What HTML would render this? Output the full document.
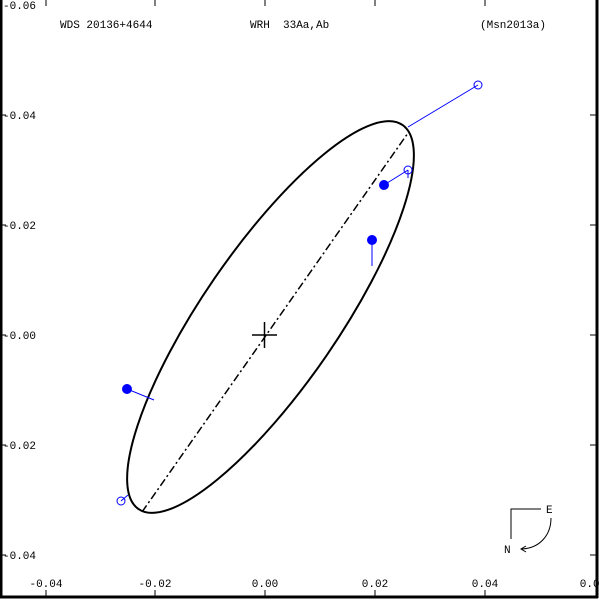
<!DOCTYPE html>
<html><head><style>body{margin:0;background:#fff}svg{display:block}text{font-family:"Liberation Mono",monospace;font-size:11px;fill:#000;white-space:pre}</style></head><body>
<svg width="600" height="600" viewBox="0 0 600 600">
<line x1="1" y1="0" x2="1" y2="598" stroke="#000" stroke-width="3"/>
<line x1="0" y1="597" x2="598" y2="597" stroke="#000" stroke-width="3"/>
<line x1="597" y1="0" x2="597" y2="598" stroke="#000" stroke-width="3"/>
<g stroke="#000" stroke-width="1">
<line x1="46" y1="0" x2="46" y2="6"/><line x1="155" y1="0" x2="155" y2="6"/><line x1="265" y1="0" x2="265" y2="6"/><line x1="375" y1="0" x2="375" y2="6"/><line x1="485" y1="0" x2="485" y2="6"/>
<line x1="46" y1="590" x2="46" y2="597"/><line x1="155" y1="590" x2="155" y2="597"/><line x1="265" y1="590" x2="265" y2="597"/><line x1="375" y1="590" x2="375" y2="597"/><line x1="485" y1="590" x2="485" y2="597"/>
<line x1="0" y1="115" x2="6" y2="115"/><line x1="0" y1="225" x2="6" y2="225"/><line x1="0" y1="335" x2="6" y2="335"/><line x1="0" y1="445" x2="6" y2="445"/><line x1="0" y1="555" x2="6" y2="555"/>
<line x1="590" y1="115" x2="597" y2="115"/><line x1="590" y1="225" x2="597" y2="225"/><line x1="590" y1="335" x2="597" y2="335"/><line x1="590" y1="445" x2="597" y2="445"/><line x1="590" y1="555" x2="597" y2="555"/>
</g>
<text x="3" y="9">-0.06</text><text x="3" y="119">-0.04</text><text x="3" y="229">-0.02</text><text x="3" y="339">-0.00</text><text x="3" y="449">-0.02</text><text x="3" y="559">-0.04</text>
<g text-anchor="middle"><text x="46" y="587">-0.04</text><text x="155" y="587">-0.02</text><text x="265" y="587">0.00</text><text x="375" y="587">0.02</text><text x="485" y="587">0.04</text><text x="593" y="587">0.06</text></g>
<text x="60" y="28">WDS 20136+4644</text><text x="250" y="28" xml:space="preserve">WRH  33Aa,Ab</text><text x="480" y="28">(Msn2013a)</text>
<ellipse cx="270.5" cy="317" rx="233" ry="68" transform="rotate(-55.5 270.5 317)" fill="none" stroke="#000" stroke-width="2"/>
<line x1="142" y1="512" x2="408" y2="133" stroke="#000" stroke-width="1.5" stroke-dasharray="8,3,2,3"/>
<line x1="252" y1="335" x2="277" y2="335" stroke="#000" stroke-width="1.5"/><line x1="264.5" y1="322" x2="264.5" y2="348" stroke="#000" stroke-width="1.5"/>
<g stroke="#00f" stroke-width="1" fill="none">
<line x1="478" y1="85" x2="408" y2="127"/><circle cx="478" cy="85" r="4"/>
<line x1="408" y1="170" x2="384" y2="185"/><line x1="408" y1="170" x2="408" y2="178"/><circle cx="408" cy="170" r="4"/>
<line x1="372" y1="240" x2="372" y2="266"/>
<line x1="127" y1="389" x2="154" y2="400"/>
<line x1="121" y1="501" x2="128" y2="495"/><circle cx="121" cy="501" r="4"/>
</g>
<g fill="#00f"><circle cx="384" cy="185" r="5"/><circle cx="372" cy="240" r="5"/><circle cx="127" cy="389" r="5"/></g>
<path d="M541 509H511V539" fill="none" stroke="#000"/>
<path d="M551 518C551 535 540 548 522 549M526 546L521 549L526 552" fill="none" stroke="#000"/>
<text x="546" y="513">E</text><text x="504" y="553">N</text>
</svg></body></html>
